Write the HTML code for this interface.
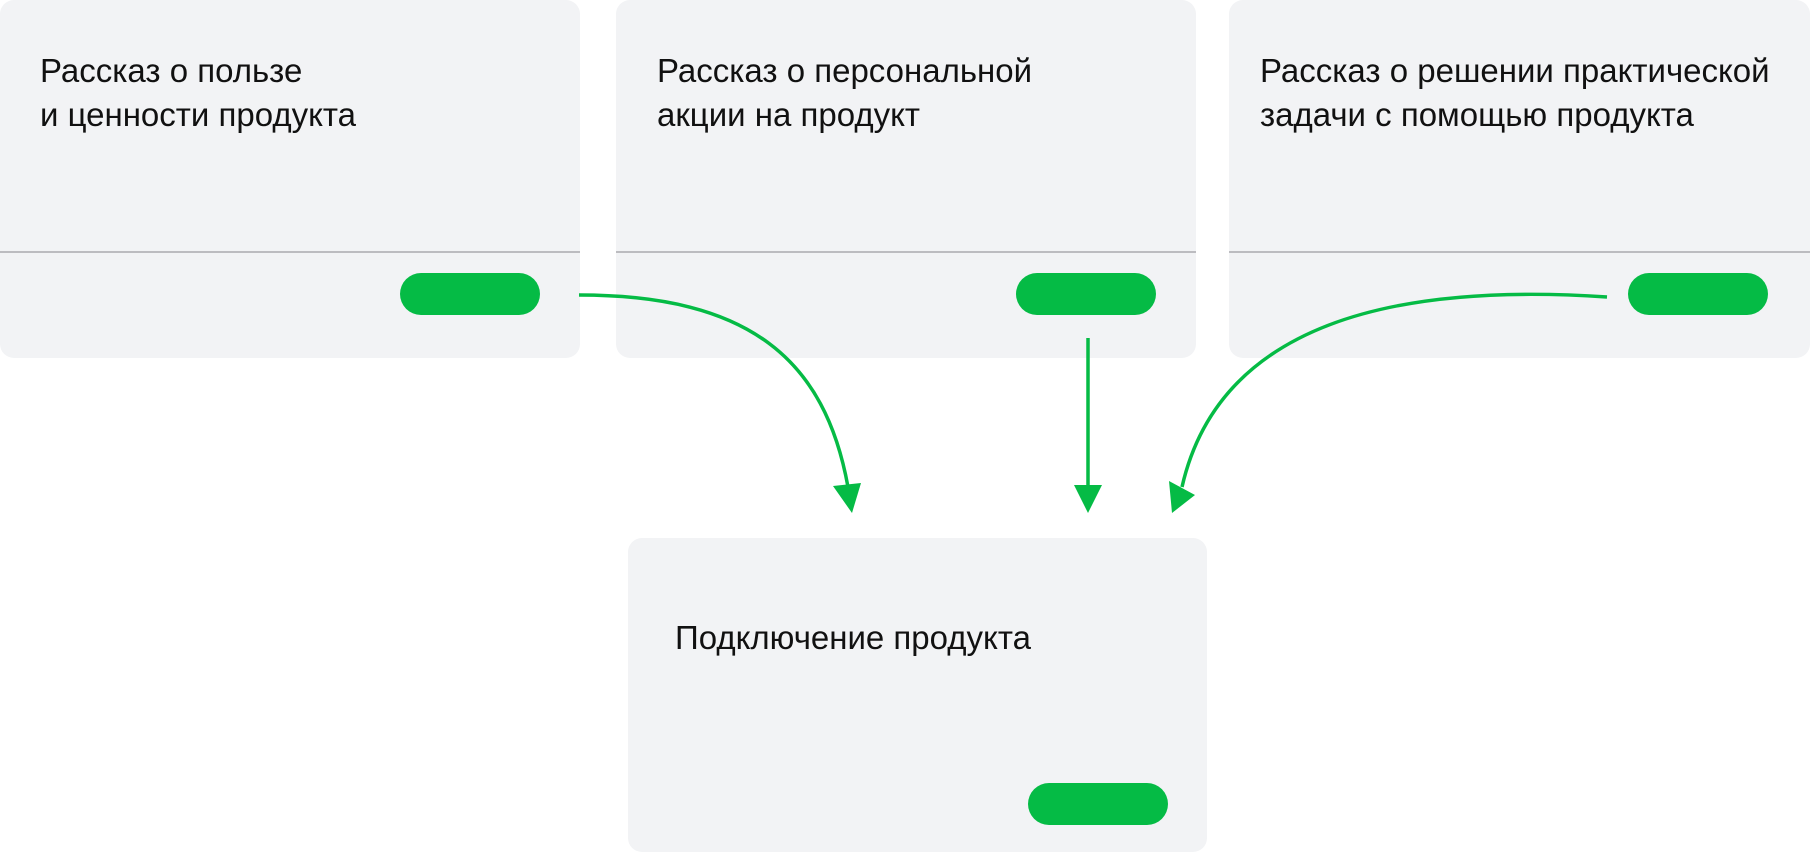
<!DOCTYPE html>
<html><head><meta charset="utf-8"><style>
html,body{margin:0;padding:0;background:#fff;}
body{width:1810px;height:852px;position:relative;overflow:hidden;font-family:"Liberation Sans","Noto Sans CJK SC",sans-serif;}
.card{position:absolute;background:#f2f3f5;border-radius:14px;}
.div{position:absolute;left:0;right:0;top:251px;height:2px;background:#bcbcc0;}
.t{position:absolute;font-size:33px;line-height:44px;color:#111;white-space:nowrap;}
.pill{position:absolute;width:140px;height:42px;border-radius:21px;background:#05bb45;}
svg{position:absolute;left:0;top:0;}
</style></head><body>
<div class="card" style="left:0;top:0;width:580px;height:358px;">
 <div class="t" style="left:40px;top:49px;">Рассказ о пользе<br>и ценности продукта</div>
 <div class="div"></div>
 <div class="pill" style="left:400px;top:273px;"></div>
</div>
<div class="card" style="left:616px;top:0;width:580px;height:358px;">
 <div class="t" style="left:41px;top:49px;">Рассказ о персональной<br>акции на продукт</div>
 <div class="div"></div>
 <div class="pill" style="left:400px;top:273px;"></div>
</div>
<div class="card" style="left:1229px;top:0;width:581px;height:358px;">
 <div class="t" style="left:31px;top:49px;">Рассказ о решении практической<br>задачи с помощью продукта</div>
 <div class="div"></div>
 <div class="pill" style="left:399px;top:273px;"></div>
</div>
<div class="card" style="left:628px;top:538px;width:579px;height:314px;">
 <div class="t" style="left:47px;top:78px;">Подключение продукта</div>
 <div class="pill" style="left:400px;top:245px;"></div>
</div>
<svg width="1810" height="852" viewBox="0 0 1810 852">
 <g fill="none" stroke="#05bb45" stroke-width="3.5">
  <path d="M579 295 C750 295 825 360 848 487"/>
  <path d="M1088 338 L1088 488"/>
  <path d="M1607 297 C1400 283 1220 320 1182 487"/>
 </g>
 <g fill="#05bb45">
  <polygon points="833,486 861,483 852,513"/>
  <polygon points="1074,485 1102,485 1088,513"/>
  <polygon points="1169,481 1195,495 1172,513"/>
 </g>
</svg>
</body></html>
